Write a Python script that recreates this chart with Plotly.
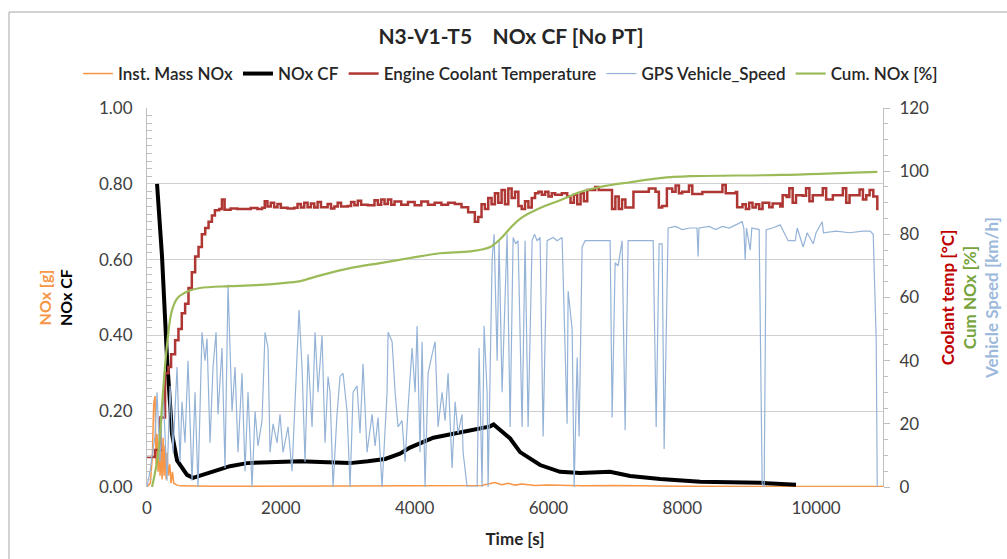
import plotly.graph_objects as go

# ---------------- data ----------------
nox_t = [0, 50, 80, 100, 120, 135, 150, 165, 180, 195, 210, 225, 240, 255, 270, 285, 300, 320, 340, 360,
         380, 400, 450, 500, 1000, 2000, 3000, 4000, 5000, 5200, 5300, 5400, 5500, 5600, 5800, 6000,
         6500, 7000, 8000, 9000, 10000, 11000]
nox_g = [0, 0.01, 0.08, 0.22, 0.24, 0.06, 0.14, 0.04, 0.12, 0.03, 0.10, 0.02, 0.13, 0.03, 0.11, 0.02, 0.09,
         0.03, 0.06, 0.01, 0.04, 0.01, 0.005, 0.003, 0.002, 0.002, 0.002, 0.003, 0.004, 0.012, 0.006,
         0.01, 0.005, 0.008, 0.004, 0.005, 0.003, 0.004, 0.002, 0.002, 0.001, 0.001]

cf_t = [150, 224, 299, 374, 449, 598, 688, 837, 1047, 1241, 1495, 1884, 2290, 2590, 3035, 3300, 3560,
        3780, 3930, 4280, 4600, 4900, 5130, 5180, 5277, 5427, 5576, 5875, 6174, 6473, 6920, 7221, 7670,
        8120, 8270, 9165, 9700]
cf = [0.80, 0.61, 0.34, 0.14, 0.07, 0.032, 0.024, 0.032, 0.045, 0.055, 0.063, 0.066, 0.068, 0.066, 0.063,
      0.068, 0.074, 0.088, 0.104, 0.130, 0.142, 0.152, 0.160, 0.165, 0.150, 0.128, 0.092, 0.058, 0.040,
      0.037, 0.040, 0.029, 0.021, 0.016, 0.014, 0.011, 0.006]

cool_t = [0, 120, 200, 270, 320, 360, 420, 470, 520, 570, 620, 670, 720, 770, 820, 870, 920, 970, 1015,
          1080, 1120, 1160, 1250, 1350, 1450, 1550, 1650, 1720, 1760, 1800, 1850, 1900, 1950, 2000, 2100,
          2200, 2250, 2300, 2350, 2400, 2450, 2500, 2550, 2600, 2700, 2750, 2800, 2850, 2900, 3000, 3050,
          3100, 3150, 3200, 3300, 3400, 3450, 3500, 3550, 3600, 3650, 3700, 3800, 3900, 4000, 4100, 4200,
          4300, 4400, 4500, 4600, 4700, 4800, 4900, 4950, 5000, 5050, 5100, 5150, 5200, 5250, 5300, 5350,
          5400, 5450, 5500, 5550, 5600, 5650, 5700, 5750, 5800, 5850, 5900, 5950, 6000, 6050, 6100, 6200,
          6280, 6330, 6380, 6430, 6480, 6530, 6580, 6650, 6700, 6750, 6900, 6950, 7000, 7050, 7100, 7150,
          7270, 7400, 7500, 7600, 7650, 7700, 7770, 7850, 7900, 7950, 8000, 8100, 8150, 8300, 8500, 8600,
          8650, 8800, 8820, 8900, 8950, 9000, 9050, 9100, 9150, 9200, 9300, 9350, 9465, 9500, 9560, 9600,
          9650, 9700, 9800, 9850, 9900, 9950, 10050, 10100, 10150, 10250, 10350, 10400, 10450, 10500,
          10600, 10650, 10700, 10750, 10800, 10855, 10915]
cool = [9.5, 11.7, 22, 36, 38, 42, 46.5, 50, 55, 58, 63, 68, 73, 76, 80, 82, 84, 86, 87.6,
        88, 91, 87.8, 88.2, 88, 88, 88.3, 88, 88.4, 90.5, 88.8, 90, 88.6, 89.6, 88.4, 88.2,
        88.4, 89.6, 88.5, 90, 88.6, 89.8, 88.5, 90.2, 88.6, 89.6, 88.2, 88.8, 90, 88.8, 89, 90.2,
        89.2, 90.6, 89.4, 89.2, 90.8, 89.4, 91, 89.6, 91, 89.4, 90.4, 89.4, 90.2, 89.2, 90.4, 89.4,
        90, 89.4, 90, 89.6, 88.6, 87, 84, 85.5, 89.5, 88, 91.5, 89.5, 93, 90, 94, 89.5,
        94.5, 91.5, 93.5, 89, 88, 90.5, 88.5, 91.5, 93, 93.5, 92.5, 93.5, 92, 93, 92.5, 93,
        92, 90, 92.5, 89.5, 93, 90.5, 94, 94, 95, 94, 94, 88, 92, 88, 91, 88.5,
        93.5, 93.5, 94.5, 93.5, 88.5, 89, 94.5, 93.5, 95.5, 93, 93.5, 95.5, 92.8, 93.4, 93.4, 95.6,
        93, 93.4, 88.6, 89.5, 88, 90, 88.5, 89.5, 88, 90, 88.6, 89.8, 88.8, 92.4, 91.8, 94.6,
        90, 92.4, 92.2, 94.6, 90.5, 92.4, 92.4, 94.6, 91, 92.4, 92.4, 94.6, 90, 92.4,
        92.4, 94.2, 91, 92.4, 94, 92, 87.6]

speed_t = [0, 45, 90, 120, 150, 194, 239, 299, 344, 389, 449, 493, 523, 568, 613, 673, 718, 762, 822, 867,
           897, 942, 987, 1032, 1061, 1121, 1166, 1211, 1271, 1316, 1360, 1420, 1465, 1510, 1570, 1615,
           1659, 1719, 1764, 1809, 1839, 1884, 1944, 1988, 2033, 2108, 2168, 2243, 2272, 2317, 2362, 2407,
           2467, 2512, 2556, 2616, 2661, 2706, 2736, 2781, 2840, 2885, 2930, 2990, 3035, 3080, 3140, 3184,
           3229, 3289, 3364, 3409, 3453, 3513, 3588, 3603, 3663, 3708, 3752, 3812, 3857, 3902, 3962, 4007,
           4037, 4081, 4111, 4156, 4201, 4261, 4306, 4350, 4410, 4455, 4500, 4560, 4605, 4649, 4709, 4724,
           4784, 4934, 4963, 5008, 5038, 5083, 5098, 5158, 5188, 5233, 5262, 5307, 5382, 5427, 5472, 5510,
           5546, 5606, 5651, 5696, 5756, 5790, 5831, 5875, 5920, 5980, 6070, 6130, 6204, 6279, 6294, 6354,
           6384, 6429, 6458, 6503, 6548, 6700, 6922, 6952, 6997, 7041, 7101, 7146, 7191, 7565, 7610, 7654,
           7699, 7729, 7789, 7900, 8000, 8118, 8220, 8237, 8250, 8400, 8500, 8600, 8700, 8800, 8895, 8920,
           8940, 8960, 9015, 9040, 9149, 9194, 9224, 9254, 9350, 9463, 9500, 9583, 9688, 9718, 9807, 9867,
           9957, 10000, 10091, 10110, 10300, 10500, 10700, 10809, 10854, 10899, 10914]
speed = [0, 5, 12, 16, 30, 8, 31, 2, 32, 11, 38, 8, 27, 14, 40, 2, 30, 0, 49, 40,
         47, 14, 38, 49, 23, 44, 6, 64, 24, 38, 11, 36, 5, 30, 0, 24,
         13, 21, 49, 44, 11, 20, 14, 23, 11, 19, 5, 41, 56, 38, 8, 42,
         19, 49, 30, 48, 14, 35, 30, 0, 23, 35, 36, 24, 0, 30, 32, 17,
         39, 11, 23, 13, 22, 0, 30, 49, 46, 30, 19, 21, 8, 25, 44, 30,
         51, 11, 46, 0, 36, 42, 46, 19, 30, 21, 36, 6, 27, 17, 23, 11,
         0, 0, 44, 0, 51, 30, 0, 72, 80, 40, 78, 30, 80, 19, 79, 77,
         78, 19, 78, 19, 78, 80, 78, 79, 16, 78, 79, 78, 79, 20, 62, 50,
         0, 41, 16, 76, 78, 78, 78, 22, 71, 70, 78, 18, 78, 78, 19, 77,
         77, 12, 82, 82.5, 81.5, 82, 82, 73, 82, 82.5, 81.5, 82.5, 82, 83, 84, 82,
         72, 82, 75, 82, 81.5, 1, 0, 81.5, 82, 83, 81.5, 78, 78, 82, 76, 80.5,
         77, 80.5, 84, 80.5, 81, 80.5, 81, 81, 80, 46, 0]

cum_t = [75, 164, 239, 299, 374, 463, 643, 792, 1240, 1690, 1990, 2290, 2590, 3035, 3485, 3930, 4380,
         4830, 5130, 5280, 5430, 5580, 5875, 6175, 6475, 6770, 7220, 7670, 8120, 9465, 10915]
cum = [0, 10, 30, 45, 56, 60, 62.2, 63, 63.6, 64, 64.5, 65.2, 67, 69.3, 70.9, 72.5, 74,
       74.6, 76, 78.5, 82, 85, 88.3, 90.8, 93.4, 95, 96.5, 97.8, 98.4, 98.8, 99.8]

FONT = "Lato, 'Open Sans', sans-serif"
TXT = "#404040"

fig = go.Figure()

fig.add_trace(go.Scatter(x=nox_t, y=nox_g, name="Inst. Mass NOx", mode="lines",
                         line=dict(color="#F79646", width=1.5)))
fig.add_trace(go.Scatter(x=cf_t, y=cf, name="NOx CF", mode="lines",
                         line=dict(color="black", width=4)))
fig.add_trace(go.Scatter(x=cool_t, y=cool, name="Engine Coolant Temperature", mode="lines",
                         line=dict(color="#AE3734", width=2.5, shape="hv"), yaxis="y2"))
fig.add_trace(go.Scatter(x=speed_t, y=speed, name="GPS Vehicle_Speed", mode="lines",
                         line=dict(color="#95B3D7", width=1.2), yaxis="y2"))
fig.add_trace(go.Scatter(x=cum_t, y=cum, name="Cum. NOx [%]", mode="lines",
                         line=dict(color="#9BBB59", width=2.2, shape="spline"), yaxis="y2"))

fig.update_layout(
    width=1007, height=559,
    margin=dict(l=147, r=124, t=108, b=72, autoexpand=False),
    paper_bgcolor="white", plot_bgcolor="white",
    font=dict(family=FONT, color=TXT, size=14),
    title=dict(text="N3-V1-T5\u00a0\u00a0\u00a0\u00a0NOx CF [No PT]", x=511 / 1007, xref="container",
               xanchor="center", y=1 - 37 / 559, yanchor="middle",
               font=dict(family=FONT, size=21, color="#262626", weight="bold")),
    # anchored left of the plot area so the single row may use the left margin too
    legend=dict(orientation="h", x=(78 - 147) / 736, xanchor="left", xref="paper",
                yref="paper", y=(487 - 74) / 379, yanchor="middle",
                font=dict(family=FONT, size=17, color="#262626", weight=600),
                itemwidth=30, traceorder="normal"),
    xaxis=dict(range=[0, 11000], tickvals=[0, 2000, 4000, 6000, 8000, 10000], tickformat="d",
               showgrid=False, zeroline=False, showline=False, ticks="", automargin=False,
               tickfont=dict(size=17, color=TXT), ticklabelstandoff=9,
               title=dict(text="Time [s]", standoff=16,
                          font=dict(size=17, color="#262626", weight="bold"))),
    yaxis=dict(range=[0, 1.0], dtick=0.2, tickformat=".2f", automargin=False,
               showgrid=True, gridcolor="#D0D0D0", gridwidth=1, zeroline=False,
               showline=True, linecolor="#BFBFBF", ticks="",
               minor=dict(dtick=0.02, ticks="inside", ticklen=5, tickcolor="#BFBFBF", showgrid=False),
               tickfont=dict(size=17, color=TXT), ticklabelstandoff=10,
               title=dict(text="<span style='color:#F79646'>NOx [g]</span><br>NOx CF",
                          standoff=22, font=dict(size=16, color="black", weight="bold"))),
    yaxis2=dict(range=[0, 120], dtick=20, overlaying="y", side="right", anchor="x", automargin=False,
                showgrid=False, zeroline=False, showline=True, linecolor="#BFBFBF",
                ticks="outside", ticklen=6, tickcolor="#BFBFBF",
                minor=dict(dtick=5, ticks="outside", ticklen=4, tickcolor="#BFBFBF"),
                tickfont=dict(size=17, color=TXT), ticklabelstandoff=6,
                title=dict(text="<span style='color:#C00000'>Coolant temp [°C]</span><br>"
                                "<span style='color:#77A33C'>Cum NOx [%]</span><br>"
                                "<span style='color:#9DB9DC'>Vehicle Speed [km/h]</span>",
                           standoff=13, font=dict(size=17, weight="bold"))),
    showlegend=True,
)

# outer chart frame
fig.add_shape(type="rect", xref="paper", yref="paper",
              x0=-138 / 736, x1=1.30, y0=-0.3, y1=(487 - 12) / 379,
              line=dict(color="#A6A6A6", width=1), fillcolor="rgba(0,0,0,0)", layer="below")

# the page body has a default 8px margin; remove it so the figure sits at the window origin
fig.write_html("out.html", config={"displayModeBar": False},
               post_script="document.body.style.margin='0px';")
